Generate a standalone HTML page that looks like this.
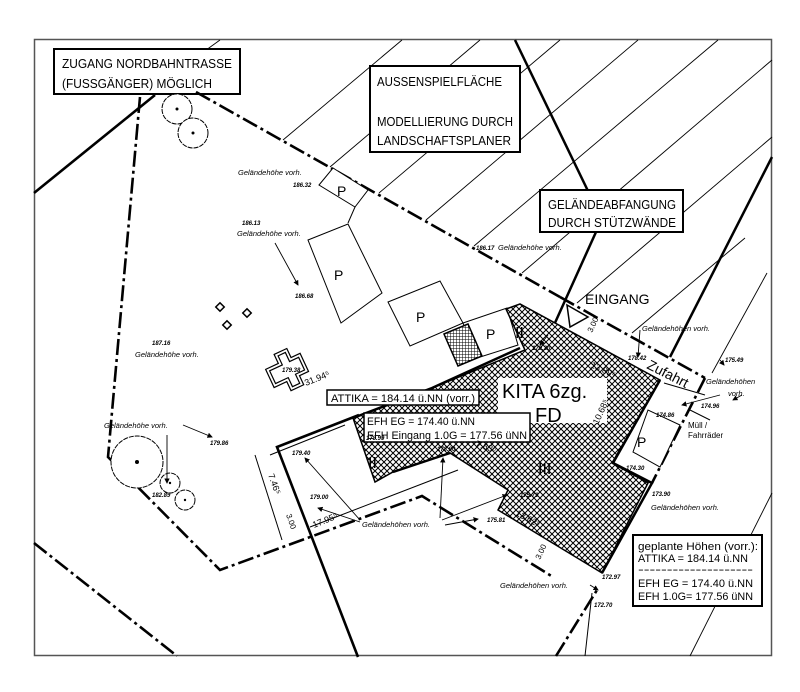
<!DOCTYPE html>
<html><head><meta charset="utf-8"><style>
html,body{margin:0;padding:0;background:#fff;}
svg{display:block;}
text{font-family:"Liberation Sans",sans-serif;fill:#000;}
.cad{font-family:"Liberation Sans Narrow","Liberation Sans",sans-serif;}
.sm{font-size:6px;font-style:italic;font-weight:bold;}
.lb{font-size:7.5px;font-style:italic;}
</style></head><body>
<svg width="800" height="692" viewBox="0 0 800 692" xmlns="http://www.w3.org/2000/svg">
<defs>
<pattern id="ch" width="6" height="6" patternUnits="userSpaceOnUse">
<rect width="6" height="6" fill="#fff"/>
<path d="M-1 -1L7 7M7 -1L-1 7" stroke="#000" stroke-width="1"/>
</pattern>
<pattern id="st" width="3" height="3" patternUnits="userSpaceOnUse">
<rect width="3" height="3" fill="#fff"/><path d="M0 0H3M0 0V3" stroke="#000" stroke-width="1"/>
</pattern>
<marker id="ar" markerWidth="6" markerHeight="6" refX="5" refY="3" orient="auto"><path d="M0 0L6 3L0 6z" fill="#000"/></marker>
</defs>
<rect width="800" height="692" fill="#fff"/>
<rect x="34.5" y="39.5" width="737" height="616" fill="none" stroke="#555" stroke-width="1.5"/>

<g stroke="#000" stroke-width="0.9" fill="none">
<line x1="220" y1="40" x2="195" y2="58"/>
<line x1="402" y1="40" x2="283" y2="140"/>
<line x1="480" y1="40" x2="330" y2="167"/>
<line x1="560" y1="40" x2="379" y2="193"/>
<line x1="638" y1="40" x2="426" y2="220"/>
<line x1="718" y1="40" x2="474" y2="246"/>
<line x1="772" y1="60" x2="522" y2="273"/>
<line x1="772" y1="137" x2="577" y2="303"/>
<line x1="745" y1="238" x2="632" y2="333"/>
<line x1="767" y1="273" x2="712" y2="373"/>
<line x1="772" y1="493" x2="690" y2="656"/>
</g>
<rect x="54" y="49" width="186" height="45" fill="#fff" stroke="#000" stroke-width="2"/>
<text class="cad" x="62" y="68" font-size="13" textLength="170" lengthAdjust="spacingAndGlyphs">ZUGANG NORDBAHNTRASSE</text>
<text class="cad" x="62" y="88" font-size="13" textLength="150" lengthAdjust="spacingAndGlyphs">(FUSSGÄNGER) MÖGLICH</text>

<rect x="370" y="66" width="150" height="86" fill="#fff" stroke="#000" stroke-width="2"/>
<text class="cad" x="377" y="86" font-size="13" textLength="125" lengthAdjust="spacingAndGlyphs">AUSSENSPIELFLÄCHE</text>
<text class="cad" x="377" y="126" font-size="13" textLength="136" lengthAdjust="spacingAndGlyphs">MODELLIERUNG DURCH</text>
<text class="cad" x="377" y="145" font-size="13" textLength="134" lengthAdjust="spacingAndGlyphs">LANDSCHAFTSPLANER</text>

<g stroke="#000" stroke-width="2.5" fill="none">
<line x1="515" y1="40" x2="588" y2="191"/>
<line x1="596" y1="232" x2="545" y2="345"/>
<line x1="772" y1="157" x2="670" y2="357"/>
</g>
<rect x="540" y="190" width="143" height="42" fill="#fff" stroke="#000" stroke-width="2"/>
<text class="cad" x="548" y="209" font-size="13" textLength="128" lengthAdjust="spacingAndGlyphs">GELÄNDEABFANGUNG</text>
<text class="cad" x="548" y="227" font-size="13" textLength="128" lengthAdjust="spacingAndGlyphs">DURCH STÜTZWÄNDE</text>

<g stroke="#000" stroke-width="2.6" fill="none" stroke-dasharray="16 4 3 4">
<line x1="196" y1="92" x2="560" y2="297"/>
<line x1="560" y1="297" x2="705" y2="378"/>
<line x1="705" y1="378" x2="652" y2="483"/>
<polyline points="140,97 108,457 220,570 422,496 553,577"/>
<line x1="34" y1="543" x2="177" y2="656"/>
<polyline points="556,656 597,590"/>
</g>
<g stroke="#000" stroke-width="2.6" fill="none">
<line x1="155" y1="95" x2="34" y2="193"/>
<polyline points="359,415 277,447 358,657"/>
</g>
<line x1="585" y1="656" x2="592" y2="593" stroke="#000" stroke-width="1"/>

<g stroke="#000" stroke-width="1" fill="#fff" stroke-dasharray="5 1">
<circle cx="177" cy="109" r="15"/>
<circle cx="193" cy="133" r="15"/>
<circle cx="137" cy="462" r="26"/>
<circle cx="170" cy="483" r="10"/>
<circle cx="185" cy="500" r="10"/>
</g>
<g fill="#000"><circle cx="177" cy="109" r="1.5"/><circle cx="193" cy="133" r="1.5"/><circle cx="137" cy="462" r="2"/><circle cx="170" cy="483" r="1.2"/><circle cx="185" cy="500" r="1.2"/></g>
<g fill="none" stroke="#000" stroke-width="1.5">
<rect x="217" y="304" width="6" height="6" transform="rotate(45 220 307)"/>
<rect x="244" y="310" width="6" height="6" transform="rotate(45 247 313)"/>
<rect x="224" y="322" width="6" height="6" transform="rotate(45 227 325)"/>
</g>
<g transform="rotate(-25 288 370)" fill="none" stroke="#000" stroke-width="1.2">
<path d="M268 360h14v-10h14v10h10v20h-10v10h-14v-10h-14z"/>
<path d="M271 363h14v-10h8v10h10v14h-10v10h-8v-10h-14z"/>
</g>

<g fill="#fff" stroke="#000" stroke-width="1">
<polygon points="319,185 333,168 368,190 355,207"/>
<line x1="355" y1="207" x2="348" y2="223"/>
<polygon points="308,240 348,224 382,293 341,323"/>
<polygon points="388,302 440,281 463,323 410,346"/>
<polygon points="463,323 507,308 518,345 477,358"/>
<polygon points="633,452 648,410 680,425 660,467"/>
</g>
<polygon points="444,334 468,324 482,356 458,366" fill="url(#st)" stroke="#000" stroke-width="1.5"/>
<g font-size="14"><text x="337" y="196">P</text><text x="334" y="280">P</text><text x="416" y="322">P</text><text x="486" y="339">P</text><text x="637" y="447">P</text></g>

<polygon points="520,304 506,309 525,350 432,388 353,418 375,482 393,472 450,453 508,490 498,510 602,573 648,483 612,463 660,380" fill="url(#ch)" stroke="#000" stroke-width="1.5"/>
<g stroke="#000" stroke-width="2.5" fill="none">
<polyline points="520,348 432,388 353,418"/>
<polyline points="660,380 613,463 652,483 602,573"/>
<line x1="450" y1="453" x2="393" y2="472"/>
</g>
<g stroke="#000" stroke-width="1" fill="none">
<line x1="345" y1="425" x2="270" y2="455"/>
<line x1="310" y1="527" x2="458" y2="470"/>
<line x1="255" y1="455" x2="282" y2="540"/>
<line x1="664" y1="383" x2="705" y2="395"/>
<line x1="690" y1="410" x2="710" y2="420"/>
</g>
<polygon points="567,305 588,317 570,327" fill="#fff" stroke="#000" stroke-width="1.5"/>
<rect x="498" y="378" width="109" height="45" fill="#fff"/>
<text x="502" y="398" font-size="20">KITA 6zg.</text>
<text x="535" y="422" font-size="20">FD</text>
<text x="515" y="338" font-size="16" class="cad">II</text>
<text x="368" y="468" font-size="16" class="cad">II</text>
<text x="538" y="474" font-size="16" class="cad">III</text>
<text x="585" y="304" font-size="14">EINGANG</text>
<text x="646" y="368" font-size="14" transform="rotate(27 646 368)">Zufahrt</text>
<text x="688" y="428" font-size="8" fill="#444">Müll /</text>
<text x="688" y="438" font-size="8" fill="#444">Fahrräder</text>

<rect x="327" y="390" width="152" height="15" fill="#fff" stroke="#000" stroke-width="1.5"/>
<text class="cad" x="331" y="402" font-size="11" textLength="144" lengthAdjust="spacingAndGlyphs">ATTIKA = 184.14 ü.NN (vorr.)</text>
<rect x="364" y="413" width="166" height="29" fill="#fff" stroke="#000" stroke-width="1.5"/>
<text class="cad" x="367" y="425" font-size="11" textLength="108" lengthAdjust="spacingAndGlyphs">EFH EG = 174.40 ü.NN</text>
<text class="cad" x="367" y="439" font-size="11" textLength="160" lengthAdjust="spacingAndGlyphs">EFH Eingang 1.0G = 177.56 üNN</text>

<rect x="633" y="535" width="129" height="71" fill="#fff" stroke="#000" stroke-width="2"/>
<g class="cad" font-size="11">
<text x="638" y="550" textLength="120" lengthAdjust="spacingAndGlyphs">geplante Höhen (vorr.):</text>
<text x="638" y="562" textLength="110" lengthAdjust="spacingAndGlyphs">ATTIKA = 184.14 ü.NN</text>
<text x="638" y="573" textLength="115" lengthAdjust="spacingAndGlyphs">--------------------</text>
<text x="638" y="587" textLength="115" lengthAdjust="spacingAndGlyphs">EFH EG = 174.40 ü.NN</text>
<text x="638" y="600" textLength="115" lengthAdjust="spacingAndGlyphs">EFH 1.0G= 177.56 üNN</text>
</g>

<g stroke="#000" stroke-width="0.9" fill="none" marker-end="url(#ar)">
<line x1="275" y1="243" x2="298" y2="285"/>
<line x1="183" y1="425" x2="212" y2="437"/>
<line x1="167" y1="435" x2="167" y2="483"/>
<line x1="360" y1="520" x2="305" y2="458"/>
<line x1="360" y1="522" x2="318" y2="508"/>
<line x1="440" y1="518" x2="443" y2="458"/>
<line x1="442" y1="520" x2="507" y2="495"/>
<line x1="445" y1="525" x2="478" y2="519"/>
<line x1="640" y1="330" x2="638" y2="357"/>
<line x1="720" y1="395" x2="682" y2="405"/>
<line x1="720" y1="360" x2="724" y2="365"/>
<line x1="742" y1="395" x2="733" y2="400"/>
<line x1="548" y1="335" x2="540" y2="345"/>
<line x1="590" y1="585" x2="598" y2="590"/>
</g>

<g class="cad">
<text class="lb" x="238" y="175">Geländehöhe vorh.</text>
<text class="sm" x="293" y="187">186.32</text>
<text class="sm" x="242" y="225">186.13</text>
<text class="lb" x="237" y="236">Geländehöhe vorh.</text>
<text class="sm" x="295" y="298">186.68</text>
<text class="sm" x="476" y="250">186.17</text>
<text class="lb" x="498" y="250">Geländehöhe vorh.</text>
<text class="sm" x="152" y="345">187.16</text>
<text class="lb" x="135" y="357">Geländehöhe vorh.</text>
<text class="lb" x="104" y="428">Geländehöhe vorh.</text>
<text class="sm" x="210" y="445">179.86</text>
<text class="sm" x="152" y="497">182.89</text>
<text class="sm" x="282" y="372">179.38</text>
<text class="sm" x="292" y="455">179.40</text>
<text class="sm" x="310" y="499">179.00</text>
<text class="sm" x="366" y="440">178.99</text>
<text class="sm" x="437" y="451">178.90</text>
<text class="sm" x="520" y="497">175.79</text>
<text class="sm" x="487" y="522">175.81</text>
<text class="lb" x="362" y="527">Geländehöhen vorh.</text>
<text class="lb" x="500" y="588">Geländehöhen vorh.</text>
<text class="sm" x="602" y="579">172.97</text>
<text class="sm" x="594" y="607">172.70</text>
<text class="sm" x="532" y="350">179.20</text>
<text class="lb" x="642" y="331">Geländehöhen vorh.</text>
<text class="sm" x="628" y="360">178.42</text>
<text class="sm" x="725" y="362">175.49</text>
<text class="lb" x="706" y="384">Geländehöhen</text>
<text class="lb" x="728" y="396">vorh.</text>
<text class="sm" x="701" y="408">174.96</text>
<text class="sm" x="656" y="417">174.86</text>
<text class="sm" x="626" y="470">174.30</text>
<text class="sm" x="652" y="496">173.90</text>
<text class="lb" x="651" y="510">Geländehöhen vorh.</text>
<text font-size="9" x="306" y="386" transform="rotate(-22 306 386)">31.94⁵</text>
<text font-size="9" x="314" y="528" transform="rotate(-22 314 528)">17.95⁵</text>
<text font-size="9" x="475" y="446" transform="rotate(20 475 446)">7.63⁵</text>
<text font-size="9" x="590" y="367" transform="rotate(25 590 367)">13.89⁵</text>
<text font-size="9" x="515" y="515" transform="rotate(28 515 515)">13.62⁵</text>
<text font-size="9" x="598" y="425" transform="rotate(-65 598 425)">10.68⁵</text>
<text font-size="9" x="268" y="475" transform="rotate(70 268 475)">7.46⁵</text>
<text font-size="8" x="286" y="515" transform="rotate(70 286 515)">3.00</text>
<text font-size="8" x="540" y="560" transform="rotate(-65 540 560)">3.00</text>
<text font-size="8" x="592" y="333" transform="rotate(-65 592 333)">3.00</text>
</g>
</svg>
</body></html>
